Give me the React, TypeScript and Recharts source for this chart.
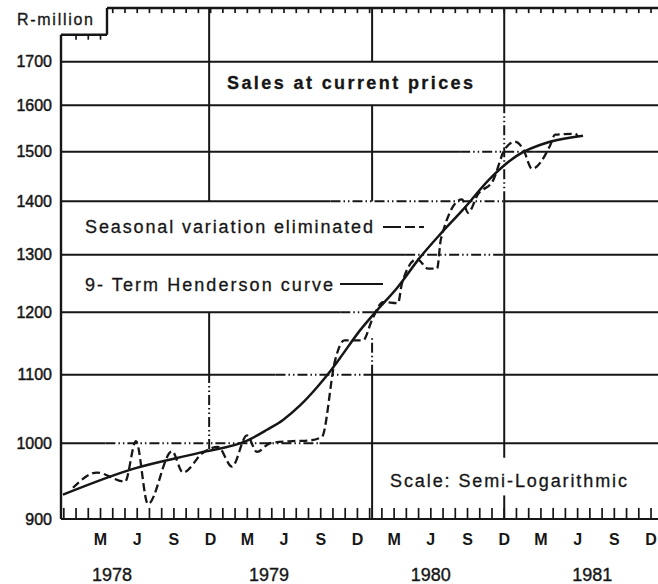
import React from "react";
import { LineChart, Line, XAxis, YAxis, ReferenceLine } from "recharts";

// x = month index, 0 = January 1978
const seasonalMonths = [
  -0.25, 1.71, 4.0, 4.9, 5.88, 7.84, 8.74, 10.38, 11.6, 12.75, 13.97, 14.79, 15.85, 17.73,
  19.12, 20.1, 21.16, 21.58, 21.91, 23.46, 24.19, 25.09, 26.32, 26.64, 27.87, 28.77, 29.51,
  29.83, 31.55, 32.04, 32.86, 34.08, 35.06, 35.88, 36.54, 37.27, 38.75, 39.15, 40.79, 41.03,
];
const seasonalValues = [
  940, 960, 948, 1003, 919, 989, 960, 987, 995, 968, 1011, 988, 1000, 1003, 1004, 1009, 1121,
  1146, 1154, 1154, 1187, 1217, 1215, 1249, 1292, 1275, 1275, 1329, 1404, 1378, 1414, 1441,
  1506, 1521, 1506, 1465, 1513, 1536, 1538, 1532,
];

const hendersonMonths = [
  -1.07, 4.66, 10.13, 14.03, 15.61, 16.92, 18.31, 19.7, 20.76, 21.58, 23.21, 24.6, 26.24,
  28.12, 29.83, 31.63, 33.84, 36.05, 38.74, 41.44,
];
const hendersonValues = [
  931, 965, 987, 1004, 1019, 1033, 1054, 1081, 1105, 1126, 1170, 1203, 1241, 1295, 1339, 1384,
  1445, 1492, 1521, 1534,
];

const yTicks = [900, 1000, 1100, 1200, 1300, 1400, 1500, 1600, 1700];
const monthTicks = [2, 5, 8, 11, 14, 17, 20, 23, 26, 29, 32, 35, 38, 41, 44, 47];
const monthLabels = ["M", "J", "S", "D", "M", "J", "S", "D", "M", "J", "S", "D", "M", "J", "S", "D"];
const yearTicks = [2.94, 15.78, 29.0, 42.2];
const yearLabels = ["1978", "1979", "1980", "1981"];

const INK = "#161616";
const FONT = '"Liberation Sans", Arial, Helvetica, sans-serif';

const X_MIN = -1.23;
const X_MAX = 47.57;
const Y_MIN = 900;
const Y_MAX = 1832;
const STEP_TOP = 1765;
const STEP_X = 2.53;

// grid pieces: [level, from, to, dash-dot?]
const hGrid: [number, number, number, boolean][] = [
  [1700, X_MIN, X_MAX, false],
  [1600, X_MIN, X_MAX, false],
  [1500, X_MIN, 31.4, false],
  [1500, 31.4, 37.5, true],
  [1500, 37.5, X_MAX, false],
  [1400, X_MIN, 20.8, false],
  [1400, 20.8, 35, true],
  [1400, 35, X_MAX, false],
  [1300, X_MIN, 26.9, false],
  [1300, 26.9, 35, true],
  [1300, 35, X_MAX, false],
  [1200, X_MIN, 21.6, false],
  [1200, 21.6, 24.2, true],
  [1200, 24.2, X_MAX, false],
  [1100, X_MIN, 16.3, false],
  [1100, 16.3, 24.2, true],
  [1100, 24.2, X_MAX, false],
  [1000, X_MIN, 2.4, false],
  [1000, 2.4, 19.9, true],
  [1000, 19.9, X_MAX, false],
];

// [month, from value, to value, dash-dot?]
const vGrid: [number, number, number, boolean][] = [
  [10.88, 1400, Y_MAX, false],
  [10.88, 1100, 1200, false],
  [10.88, 992, 1100, true],
  [24.2, 1700, Y_MAX, false],
  [24.2, 1400, 1600, false],
  [24.2, 1100, 1160, true],
  [24.2, Y_MIN, 1100, false],
  [35, 1600, Y_MAX, false],
  [35, 1400, 1600, true],
  [35, 980, 1400, false],
  [35, Y_MIN, 930, false],
];

const bottomTicks = Array.from({ length: 49 }, (_, i) => i - 1);
const topTicks = Array.from({ length: 45 }, (_, i) => i + 3);
const stepTicks = [0, 1, 2];

const seasonalData = seasonalMonths.map((m, i) => ({ m, v: seasonalValues[i] }));
const hendersonData = hendersonMonths.map((m, i) => ({ m, v: hendersonValues[i] }));

const DASH_DOT = "10 3 1.5 3 1.5 3";

function seg(key: string, x1: number, y1: number, x2: number, y2: number, width: number, dash?: string) {
  return (
    <ReferenceLine
      key={key}
      xAxisId="m"
      segment={[{ x: x1, y: y1 }, { x: x2, y: y2 }]}
      stroke={INK}
      strokeWidth={width}
      strokeDasharray={dash}
      ifOverflow="visible"
    />
  );
}

export default function App() {
  return (
    <div style={{ position: "absolute", left: 0, top: 0, width: 658, height: 584, background: "#fff" }}>
      <LineChart width={658} height={584} margin={{ top: 8, right: 0, bottom: 0, left: 0 }}>
        <XAxis
          xAxisId="m"
          dataKey="m"
          type="number"
          domain={[X_MIN, X_MAX]}
          allowDataOverflow
          ticks={monthTicks}
          interval={0}
          tickFormatter={(v: number) => monthLabels[monthTicks.indexOf(v)] ?? ""}
          height={30}
          tickSize={0}
          tickMargin={15}
          tickLine={false}
          axisLine={{ stroke: INK, strokeWidth: 2.2 }}
          tick={{ fill: INK, fontSize: 16, fontWeight: 700, fontFamily: FONT }}
        />
        <XAxis
          xAxisId="y"
          dataKey="m"
          type="number"
          domain={[X_MIN, X_MAX]}
          allowDataOverflow
          ticks={yearTicks}
          interval={0}
          tickFormatter={(v: number) => yearLabels[yearTicks.indexOf(v)] ?? ""}
          height={35}
          tickSize={0}
          tickMargin={19}
          tickLine={false}
          axisLine={false}
          tick={{ fill: INK, fontSize: 18, fontFamily: FONT, stroke: INK, strokeWidth: 0.35 }}
        />
        <YAxis
          scale="log"
          domain={[Y_MIN, Y_MAX]}
          allowDataOverflow
          ticks={yTicks}
          interval={0}
          width={61}
          tickSize={0}
          tickMargin={9}
          tickLine={false}
          axisLine={false}
          tick={{ fill: INK, fontSize: 16, fontFamily: FONT, stroke: INK, strokeWidth: 0.45 }}
        />

        {hGrid.map(([v, a, b, dd], i) => seg("h" + i, a, v, b, v, 2, dd ? DASH_DOT : undefined))}
        {vGrid.map(([m, a, b, dd], i) => seg("v" + i, m, a, m, b, 2, dd ? DASH_DOT : undefined))}

        {seg("frameL", X_MIN, Y_MIN, X_MIN, STEP_TOP, 2.4)}
        {seg("stepH", X_MIN, STEP_TOP, STEP_X, STEP_TOP, 2.4)}
        {seg("stepV", STEP_X, STEP_TOP, STEP_X, Y_MAX, 2.4)}
        {seg("frameT", STEP_X, Y_MAX, X_MAX, Y_MAX, 2.4)}

        {bottomTicks.map((m) => seg("bt" + m, m, Y_MIN, m, 914, 1.7))}
        {topTicks.map((m) => seg("tt" + m, m, Y_MAX, m, 1819, 1.7))}
        {stepTicks.map((m) => seg("st" + m, m, STEP_TOP, m, 1753, 1.7))}

        <Line
          xAxisId="m"
          data={hendersonData}
          dataKey="v"
          type="monotone"
          stroke={INK}
          strokeWidth={2.5}
          dot={false}
          isAnimationActive={false}
        />
        <Line
          xAxisId="m"
          data={seasonalData}
          dataKey="v"
          type="monotone"
          stroke={INK}
          strokeWidth={2.3}
          strokeDasharray="8 4"
          dot={false}
          isAnimationActive={false}
        />
      </LineChart>

      <svg
        width={658}
        height={584}
        style={{ position: "absolute", left: 0, top: 0, pointerEvents: "none" }}
        fontFamily={FONT}
        fill={INK}
        stroke={INK}
        strokeWidth={0.3}
      >
        <text x={17} y={25} fontSize={16} textLength={76} lengthAdjust="spacing">R-million</text>
        <text x={227} y={89} fontSize={18} fontWeight={700} textLength={246} lengthAdjust="spacing">
          Sales at current prices
        </text>
        <text x={85} y={233} fontSize={18} textLength={288} lengthAdjust="spacing">
          Seasonal variation eliminated
        </text>
        <line x1={383} y1={227} x2={425} y2={227} strokeWidth={2} strokeDasharray="18 4 10 4 5" />
        <text x={85} y={290.5} fontSize={18} textLength={248} lengthAdjust="spacing">
          9- Term Henderson curve
        </text>
        <line x1={340} y1={284} x2={383} y2={284} strokeWidth={2.2} />
        <text x={390} y={486.5} fontSize={18} textLength={237} lengthAdjust="spacing">
          Scale: Semi-Logarithmic
        </text>
      </svg>
    </div>
  );
}
